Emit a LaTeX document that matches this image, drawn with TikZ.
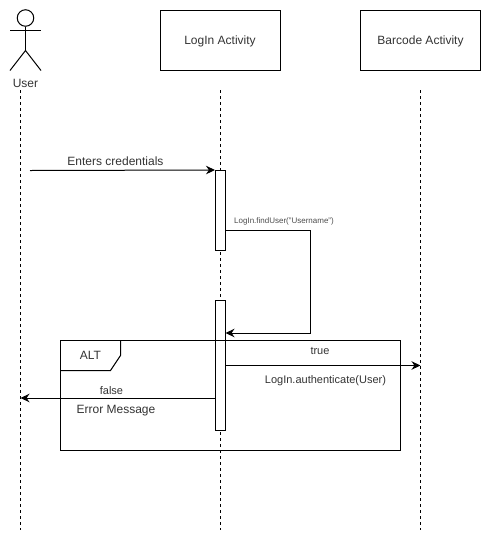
\documentclass[tikz,border=0pt]{standalone}
\usepackage{fontspec}
\setmainfont{Liberation Sans}
\usetikzlibrary{arrows.meta}
\tikzset{
  objbox/.style={draw,minimum width=120pt,minimum height=60pt,inner sep=0pt},
  actbox/.style={draw,fill=white,minimum width=10pt,inner sep=0pt},
  lifeline/.style={dash pattern=on 3pt off 3pt},
  msg/.style={-{Stealth[length=9pt,width=8.5pt]}},
  lbl/.style={inner sep=0pt,text=black!80},
  tinylbl/.style={lbl,font=\fontsize{8}{9}\selectfont,text=black!70}
}
\begin{document}
\begin{tikzpicture}[x=1pt,y=-1pt,line width=1pt,font=\fontsize{12}{14}\selectfont]
  \useasboundingbox (0,0) rectangle (492,542);
  % actor
  \node[draw,circle,minimum size=16.5pt,inner sep=0pt] (head) at (25.5,18) {};
  \coordinate (hip) at (25.5,50.5);
  \coordinate (armL) at (10,30.5);
  \coordinate (armR) at (41,30.5);
  \coordinate (footL) at (10,70.5);
  \coordinate (footR) at (41,70.5);
  \draw (head.south) -- (hip);
  \draw (armL) -- (armR);
  \draw (footL) -- (hip) -- (footR);
  \node[lbl] (user) at (25.5,83.5) {User};

  \node[objbox] (login) at (220.5,40.5) {};
  \node[lbl] at (220,41) {LogIn Activity};
  \node[objbox] (barcode) at (420.5,40.5) {};
  \node[lbl] at (420.5,41) {Barcode Activity};

  % lifelines
  \coordinate (userTop) at (20.5,90);
  \coordinate (userEnd) at (20.5,530);
  \coordinate (loginTop) at (220.5,90);
  \coordinate (loginEnd) at (220.5,530);
  \coordinate (barcodeTop) at (420.5,90);
  \coordinate (barcodeEnd) at (420.5,530);
  \draw[lifeline] (userTop) -- (userEnd);
  \draw[lifeline] (loginTop) -- (loginEnd);
  \draw[lifeline] (barcodeTop) -- (barcodeEnd);

  \node[actbox,minimum height=80pt] (actA) at (220.5,210.5) {};
  \node[actbox,minimum height=130pt] (actB) at (220.5,365.5) {};

  % ALT frame
  \node[draw,minimum width=340pt,minimum height=110pt,inner sep=0pt] (frame) at (230.5,395.5) {};
  \coordinate (tabA) at (120.5,340.5);
  \coordinate (tabB) at (120.5,355.5);
  \coordinate (tabC) at (110.5,370.5);
  \coordinate (tabD) at (60.5,370.5);
  \draw (tabA) -- (tabB) -- (tabC) -- (tabD);
  \node[lbl] at (90.5,355.5) {ALT};

  % messages
  \coordinate (enterFrom) at (30,170.5);
  \draw[msg] (enterFrom) -- (actA.north west);
  \node[lbl] at (115.5,161) {Enters credentials};

  \coordinate (turn) at (310.5,230.5);
  \coordinate (backTo) at (225.5,333);
  \draw[msg] (actA.east |- turn) -- (turn) |- (backTo);
  \node[tinylbl] at (284,221) {LogIn.findUser("Username")};

  \coordinate (authTo) at (420.5,365.5);
  \draw[msg] (actB.east |- authTo) -- (authTo);
  \node[lbl,font=\fontsize{11}{13}\selectfont] at (320,350.5) {true};
  \node[lbl,font=\fontsize{11}{13}\selectfont] at (325.5,380.5) {LogIn.authenticate(User)};

  \coordinate (falseTo) at (20.5,398);
  \draw[msg] (actB.west |- falseTo) -- (falseTo);
  \node[lbl,font=\fontsize{11}{13}\selectfont] at (111.5,390.5) {false};
  \node[lbl] at (116,411) {Error Message};
\end{tikzpicture}
\end{document}
